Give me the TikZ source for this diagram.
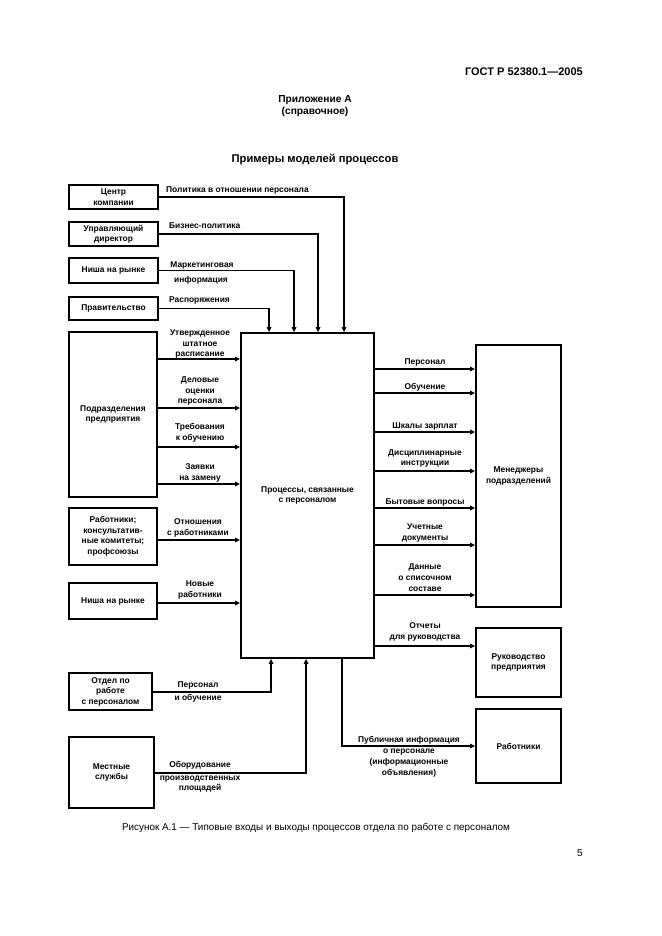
\documentclass[tikz,border=0pt]{standalone}
\usepackage{fontspec}
\setmainfont{Liberation Sans}
\usetikzlibrary{arrows.meta}
\begin{document}
\begin{tikzpicture}[x=1pt,y=-1pt,
  box/.style={draw,line width=1.8pt,inner sep=1pt,align=center,font=\bfseries\fontsize{8.4}{10.5}\selectfont},
  lbl/.style={inner sep=0pt,align=center,font=\bfseries\fontsize{8.4}{10.8}\selectfont},
  arr/.style={line width=1.5pt,-{Triangle[length=5pt,width=4.5pt]}},
  head/.style={inner sep=0pt,align=center,font=\bfseries\fontsize{10.2}{12.5}\selectfont}]
\useasboundingbox (0,0) rectangle (661,936);
% header
\node[head,anchor=east,font=\bfseries\fontsize{11}{13}\selectfont] (gost) at (583,72) {ГОСТ Р 52380.1—2005};
\node[head] (pril) at (315,106) {Приложение А\\(справочное)};
\node[head,font=\bfseries\fontsize{11.2}{13}\selectfont] (title) at (315,159) {Примеры моделей процессов};
% left boxes
\node[box,minimum width=89,minimum height=24] (c1) at (113.5,197) {Центр\\компании};
\node[box,minimum width=89,minimum height=24] (c2) at (113.5,234) {Управляющий\\директор};
\node[box,minimum width=89,minimum height=25] (c3) at (113.5,270.5) {Ниша на рынке};
\node[box,minimum width=89,minimum height=23] (c4) at (113.5,308.5) {Правительство};
\node[box,minimum width=88,minimum height=165] (podr) at (113,414.5) {Подразделения\\предприятия};
\node[box,minimum width=88,minimum height=57] (rab) at (113,536.5) {Работники;\\консультатив-\\ные комитеты;\\профсоюзы};
\node[box,minimum width=88,minimum height=36] (nisha) at (113,601) {Ниша на рынке};
\node[box,minimum width=83,minimum height=37] (otdel) at (110.5,691.5) {Отдел по\\работе\\с персоналом};
\node[box,minimum width=85,minimum height=71] (mest) at (111.5,772.5) {Местные\\службы};
% process
\node[box,minimum width=133,minimum height=325] (proc) at (307.5,495.5) {Процессы, связанные\\с персоналом};
% right boxes
\node[box,minimum width=85,minimum height=262] (mgr) at (518.5,476) {Менеджеры\\подразделений};
\node[box,minimum width=85,minimum height=69] (ruk) at (518.5,662.5) {Руководство\\предприятия};
\node[box,minimum width=85,minimum height=74] (wrk) at (518.5,746) {Работники};
% top inputs
\draw[arr] (c1.east) -| ([xshift=104pt]proc.north west);
\draw[arr] (c2.east) -| ([xshift=78pt]proc.north west);
\draw[arr] (c3.east) -| ([xshift=54pt]proc.north west);
\draw[arr] (c4.east) -| ([xshift=29pt]proc.north west);
\node[lbl,anchor=west] (l1) at (166,190) {Политика в отношении персонала};
\node[lbl,anchor=west] (l2) at (169,226) {Бизнес-политика};
\node[lbl] (l3a) at (202,265) {Маркетинговая};
\node[lbl] (l3b) at (201,280) {информация};
\node[lbl,anchor=west] (l4) at (169,300) {Распоряжения};
% left inputs
\draw[arr] (podr.east |- {0,359}) -- (proc.west |- {0,359});
\draw[arr] (podr.east |- {0,408}) -- (proc.west |- {0,408});
\draw[arr] (podr.east |- {0,447}) -- (proc.west |- {0,447});
\draw[arr] (podr.east |- {0,484}) -- (proc.west |- {0,484});
\draw[arr] (rab.east |- {0,540}) -- (proc.west |- {0,540});
\draw[arr] (nisha.east |- {0,603}) -- (proc.west |- {0,603});
\node[lbl] (l5) at (200,344) {Утвержденное\\штатное\\расписание};
\node[lbl] (l6) at (200,391) {Деловые\\оценки\\персонала};
\node[lbl] (l7) at (200,432.5) {Требования\\к обучению};
\node[lbl] (l8) at (200,473) {Заявки\\на замену};
\node[lbl] (l9) at (198,528) {Отношения\\с работниками};
\node[lbl] (l10) at (200,590) {Новые\\работники};
% bottom inputs
\draw[arr] (otdel.east |- {0,692}) -| ([xshift=31pt]proc.south west);
\draw[arr] (mest.east |- {0,773}) -| ([xshift=66pt]proc.south west);
\node[lbl] (l11a) at (198,685) {Персонал};
\node[lbl] (l11b) at (198,698) {и обучение};
\node[lbl] (l12a) at (200,765) {Оборудование};
\node[lbl] (l12b) at (200,784) {производственных\\площадей};
% outputs
\draw[arr] (proc.east |- {0,369}) -- (mgr.west |- {0,369});
\draw[arr] (proc.east |- {0,393}) -- (mgr.west |- {0,393});
\draw[arr] (proc.east |- {0,432}) -- (mgr.west |- {0,432});
\draw[arr] (proc.east |- {0,471}) -- (mgr.west |- {0,471});
\draw[arr] (proc.east |- {0,508}) -- (mgr.west |- {0,508});
\draw[arr] (proc.east |- {0,545}) -- (mgr.west |- {0,545});
\draw[arr] (proc.east |- {0,595}) -- (mgr.west |- {0,595});
\draw[arr] (proc.east |- {0,646}) -- (ruk.west |- {0,646});
\draw[arr] ([xshift=102pt]proc.south west) |- (wrk.west);
\node[lbl] (r1) at (425,362) {Персонал};
\node[lbl] (r2) at (425,387) {Обучение};
\node[lbl] (r3) at (425,426) {Шкалы зарплат};
\node[lbl] (r4) at (425,458.5) {Дисциплинарные\\инструкции};
\node[lbl] (r5) at (425,502) {Бытовые вопросы};
\node[lbl] (r6) at (425,533) {Учетные\\документы};
\node[lbl] (r7) at (425,577.5) {Данные\\о списочном\\составе};
\node[lbl] (r8) at (425,632) {Отчеты\\для руководства};
\node[lbl] (r9a) at (409,740) {Публичная информация};
\node[lbl] (r9b) at (409,763) {о персонале\\(информационные\\объявления)};
% caption
\node[inner sep=0pt,font=\fontsize{9.9}{11}\selectfont] (cap) at (316,828) {Рисунок А.1 — Типовые входы и выходы процессов отдела по работе с персоналом};
\node[inner sep=0pt,font=\fontsize{10}{12}\selectfont,anchor=east] (pg) at (583,853) {5};
\end{tikzpicture}
\end{document}
